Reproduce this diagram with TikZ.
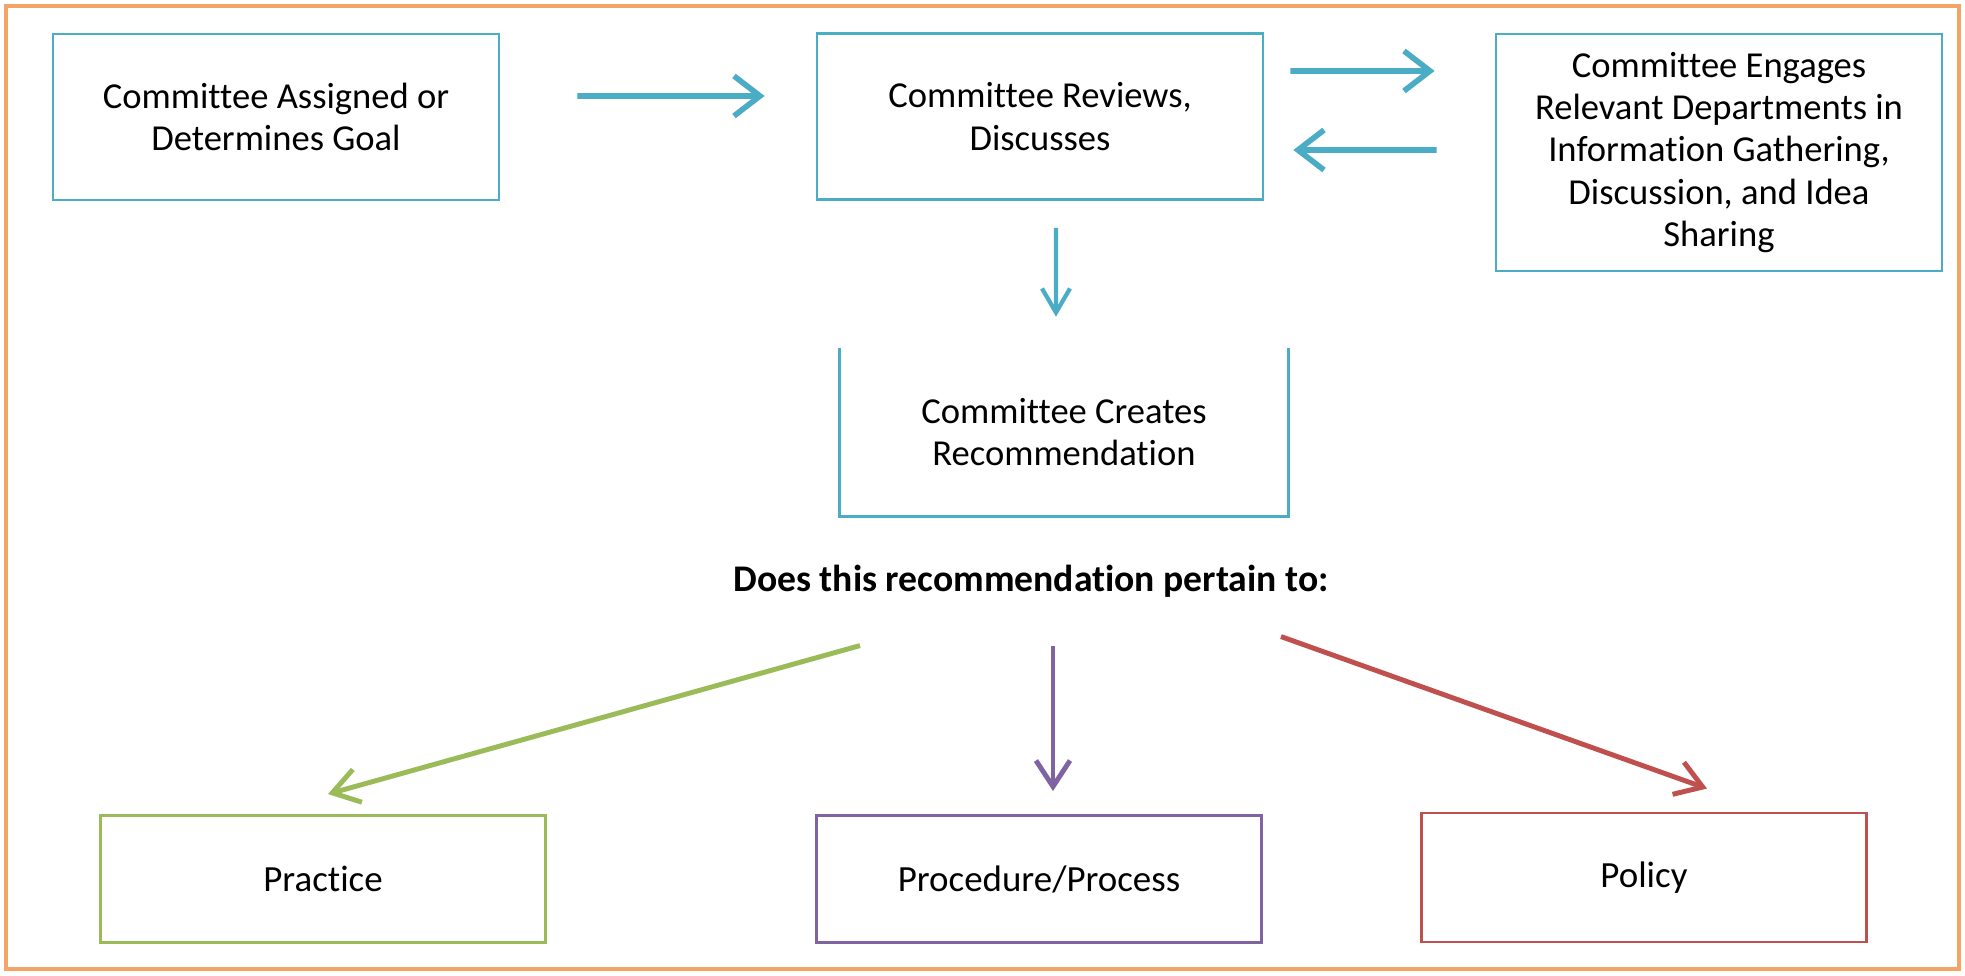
\documentclass[tikz,border=0pt]{standalone}
\usepackage{fontspec}
\setmainfont[Ligatures=NoCommon]{Carlito}
\usetikzlibrary{arrows.meta, calc, positioning}

\definecolor{aqua}{RGB}{75,172,198}
\definecolor{leafgreen}{RGB}{155,187,89}
\definecolor{lavender}{RGB}{128,100,162}
\definecolor{brick}{RGB}{192,80,77}
\definecolor{frameorange}{RGB}{243,164,102}

\begin{document}
\begin{tikzpicture}[x=0.01cm, y=-0.01cm,
  box/.style={draw=aqua, line width=0.7pt, minimum width=4.46cm, minimum height=1.66cm,
    align=center, font=\fontsize{10.4}{12}\selectfont},
  choice/.style={line width=0.8pt, minimum width=4.45cm, minimum height=1.27cm,
    font=\fontsize{10.5}{12}\selectfont},
  flow/.style={aqua, line width=1.6pt, -{Straight Barb[length=0.26cm, width=0.40cm]}},
  branch/.style={line width=1.4pt, -{Straight Barb[length=0.26cm, width=0.34cm]}}]

  \useasboundingbox (0,0) rectangle (1965,976);
  \fill[white] (0,0) rectangle (1965,976);

  \draw[frameorange, line width=1.4pt] (6,6) rectangle (1959,969);

  \node[box] (assign) at (276,117) {Committee Assigned or\\Determines Goal};
  \node[box] (review) at (1040,116.5) {Committee Reviews,\\Discusses};
  \node[box, minimum height=2.37cm] (engage) at (1719,152.5)
    {Committee Engages\\Relevant Departments in\\Information Gathering,\\Discussion, and Idea\\Sharing};
  \node[box, draw=none] (create) at (1064,432) {Committee Creates\\Recommendation};
  \draw[aqua, line width=0.7pt] (create.north west) -- (create.south west)
    -- (create.south east) -- (create.north east);

  \node[font=\fontsize{10.7}{12}\selectfont\bfseries] (ask) at (1031,581) {Does this recommendation pertain to:};

  \node[choice, draw=leafgreen] (practice) at (323,879) {Practice};
  \node[choice, draw=lavender] (procedure) at (1039,879) {Procedure/Process};
  \node[choice, draw=brick, minimum height=1.29cm] (policy) at (1644,877.5) {Policy};

  \draw[flow] ([yshift=0.21cm]assign.east) -- ([yshift=0.205cm]review.west)
    [shorten <=0.77cm, shorten >=0.51cm];
  \draw[flow, shorten <=0.26cm, shorten >=0.6cm] ([yshift=0.455cm]review.east) -- ([yshift=0.815cm]engage.west);
  \draw[flow, shorten <=0.58cm, shorten >=0.29cm] ([yshift=0.025cm]engage.west) -- ([yshift=-0.335cm]review.east);
  \draw[flow, line width=1.2pt, -{Straight Barb[length=0.24cm, width=0.28cm]}, shorten <=0.27cm, shorten >=0.31cm]
    ([xshift=0.16cm]review.south) -- ([xshift=-0.08cm]create.north);

  \draw[branch, leafgreen] ($(ask.south)+(-171,36)$) -- ($(practice.north)+(5,-20)$);
  \draw[branch, lavender] ($(ask.south)+(22,36)$) -- ($(procedure.north)+(14,-23)$);
  \draw[branch, brick] ($(ask.south)+(250,27)$) -- ($(policy.north)+(63,-23)$);

\end{tikzpicture}
\end{document}
